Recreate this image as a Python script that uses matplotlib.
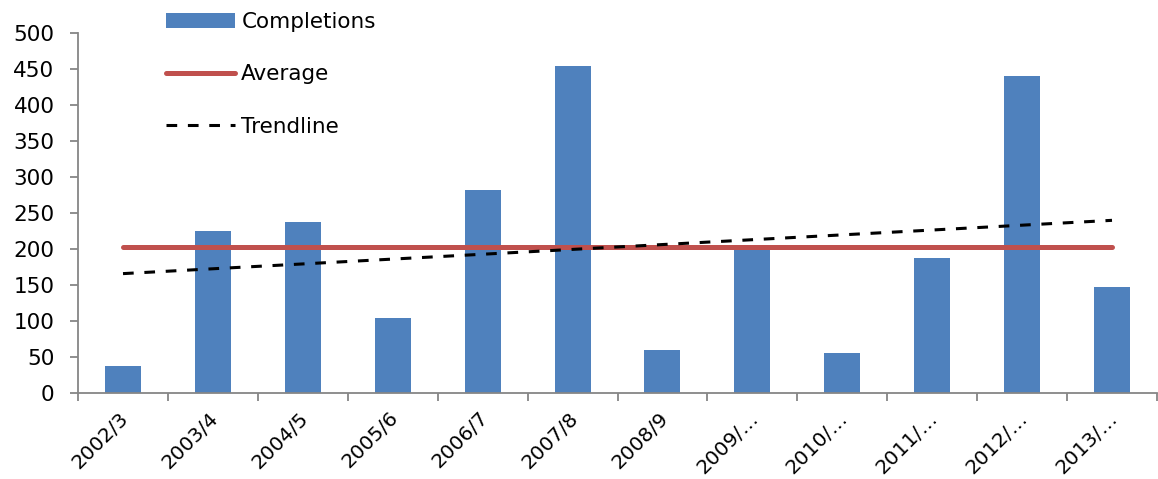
import numpy as np
import matplotlib.pyplot as plt
import matplotlib.transforms as mtransforms
from matplotlib.ticker import FixedLocator, NullFormatter

plt.rcParams['font.family'] = ['DejaVu Sans']

# completions per year
years = ['2002/3', '2003/4', '2004/5', '2005/6', '2006/7', '2007/8', '2008/9',
         '2009/…', '2010/…', '2011/…', '2012/…', '2013/…']
completions = [37, 225, 238, 104, 282, 454, 60, 203, 56, 188, 440, 147]

x = np.arange(len(years))
avg = np.mean(completions)
coef = np.polyfit(x, completions, 1)
trend = np.polyval(coef, x)

fig = plt.figure(figsize=(11.58, 4.79), dpi=100)
ax = fig.add_axes([0.0674, 0.1795, 0.9317, 0.7516])

bars = ax.bar(x, completions, width=0.4, color='#4F81BD', label='Completions', zorder=2)
avg_line, = ax.plot(x, [avg] * len(x), color='#C0504D', linewidth=3.6,
                    solid_capstyle='round', label='Average', zorder=3)
trend_line, = ax.plot(x, trend, color='black', linewidth=2.2, dashes=(3.5, 3.5),
                      label='Trendline', zorder=4)

ax.set_xlim(-0.5, len(years) - 0.5)
ax.set_ylim(0, 500)
ax.set_yticks(np.arange(0, 501, 50))

ax.set_xticks(x)
ax.set_xticklabels(years, rotation=45, ha='right', rotation_mode='anchor')
ax.xaxis.set_minor_locator(FixedLocator(np.arange(-0.5, len(years), 1)))
ax.xaxis.set_minor_formatter(NullFormatter())
ax.tick_params(axis='x', which='major', length=0, pad=11, labelsize=14.5)
ax.tick_params(axis='x', which='minor', length=6, width=1.3, color='#868686')
ax.tick_params(axis='y', length=6, width=1.3, color='#868686', labelsize=15.5, pad=11)

# nudge rotated labels a little to the left
shift = mtransforms.ScaledTranslation(-4 / 100, 0, fig.dpi_scale_trans)
for lbl in ax.get_xticklabels():
    lbl.set_transform(lbl.get_transform() + shift)

for side in ['top', 'right']:
    ax.spines[side].set_visible(False)
for side in ['left', 'bottom']:
    ax.spines[side].set_color('#868686')
    ax.spines[side].set_linewidth(1.3)

fig.legend([bars, avg_line, trend_line], ['Completions', 'Average', 'Trendline'],
           loc='upper left', bbox_to_anchor=(0.1433, 0.975), frameon=False,
           fontsize=15.5, handlelength=3.2, handleheight=0.65, labelspacing=1.5,
           handletextpad=0.3, borderpad=0, borderaxespad=0)

fig.savefig('out.png', dpi=100)
